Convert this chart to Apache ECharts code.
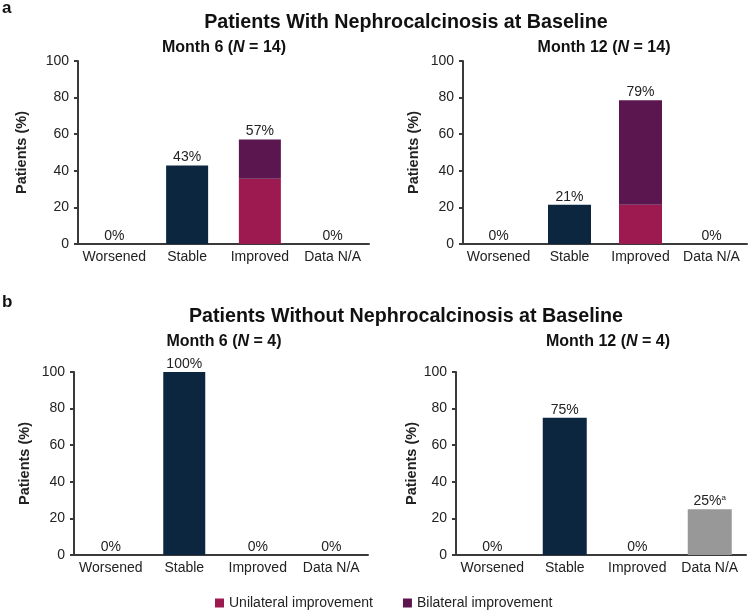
<!DOCTYPE html>
<html>
<head>
<meta charset="utf-8">
<script src="https://cdn.jsdelivr.net/npm/echarts@6/dist/echarts.min.js"></script>
<style>
html,body{margin:0;padding:0;background:#fff;}
#chart{width:749px;height:612px;}
</style>
</head>
<body>
<div id="chart"></div>
<script>
// ---- data ----
const categories = ['Worsened', 'Stable', 'Improved', 'Data N/A'];
const yTicks = [0, 20, 40, 60, 80, 100];
const titleWith = 'Patients With Nephrocalcinosis at Baseline';
const titleWithout = 'Patients Without Nephrocalcinosis at Baseline';
const panelMonths = ['Month 6', 'Month 12', 'Month 6', 'Month 12'];
const panelN = [14, 14, 4, 4];

// outcome bars (Worsened, Stable, -, Data N/A)
const outcomeWithM6 = [0, 42.9, '-', 0];
const outcomeWithM12 = [0, 21.4, '-', 0];
const outcomeWithoutM6 = [0, 100, '-', 0];
const outcomeWithoutM12 = [0, 75, '-', 25];
// improved split
const unilateralWithM6 = ['-', '-', 35.7, '-'];
const bilateralWithM6 = ['-', '-', 21.4, '-'];
const unilateralWithM12 = ['-', '-', 21.4, '-'];
const bilateralWithM12 = ['-', '-', 57.1, '-'];
const unilateralWithoutM6 = ['-', '-', 0, '-'];
const bilateralWithoutM6 = ['-', '-', 0, '-'];
const unilateralWithoutM12 = ['-', '-', 0, '-'];
const bilateralWithoutM12 = ['-', '-', 0, '-'];

// ---- styling ----
const FONT = '"Liberation Sans", Arial, sans-serif';
const TXT = '#222';
const NAVY = '#0c2640';
const GREY = '#989898';
const MAGENTA = '#9d1a50';
const PURPLE = '#5b1650';

const outcomes = [outcomeWithM6, outcomeWithM12, outcomeWithoutM6, outcomeWithoutM12];
const unis = [unilateralWithM6, unilateralWithM12, unilateralWithoutM6, unilateralWithoutM12];
const bis = [bilateralWithM6, bilateralWithM12, bilateralWithoutM6, bilateralWithoutM12];

const grids = [
  {left: 78, top: 61, width: 291, height: 183},
  {left: 463, top: 61, width: 284, height: 183},
  {left: 74, top: 372, width: 294, height: 183},
  {left: 456, top: 372, width: 290, height: 183}
];
const nameGaps = [49, 42, 42, 34];
const barWidths = [42, 43, 42, 44];

const xAxes = [], yAxes = [], series = [];
const lbl = {show: true, position: 'top', distance: 1, color: TXT, fontSize: 14, fontFamily: FONT};

grids.forEach((g, i) => {
  xAxes.push({
    type: 'category', gridIndex: i, data: categories,
    axisLine: {lineStyle: {color: '#3a3a3a', width: 2}},
    axisTick: {show: false},
    axisLabel: {color: TXT, fontSize: 14, fontFamily: FONT, margin: 6, interval: 0}
  });
  yAxes.push({
    type: 'value', gridIndex: i, min: yTicks[0], max: yTicks[yTicks.length - 1], interval: yTicks[1] - yTicks[0],
    name: 'Patients (%)', nameLocation: 'middle', nameGap: nameGaps[i], nameRotate: 90,
    nameTextStyle: {fontWeight: 'bold', fontSize: 14.5, color: TXT, fontFamily: FONT},
    axisLine: {show: true, lineStyle: {color: '#3a3a3a', width: 2}},
    axisTick: {show: true, length: 4, lineStyle: {color: '#3a3a3a', width: 2}},
    splitLine: {show: false},
    axisLabel: {color: TXT, fontSize: 14, fontFamily: FONT, margin: 9}
  });
  const outData = outcomes[i].map((v, k) => {
    if (v === '-') return '-';
    const item = {value: v, itemStyle: {color: categories[k] === 'Data N/A' ? GREY : NAVY}};
    if (i === 3 && categories[k] === 'Data N/A') {
      item.label = {formatter: '{v|' + Math.round(v) + '%}{s|a}'};
    }
    return item;
  });
  series.push({
    type: 'bar', name: 'Outcome', xAxisIndex: i, yAxisIndex: i, stack: 's' + i,
    barWidth: barWidths[i], data: outData,
    label: Object.assign({}, lbl, {
      formatter: p => Math.round(p.value) + '%',
      rich: {v: {fontSize: 14, color: TXT, fontFamily: FONT},
             s: {fontSize: 8, color: TXT, fontFamily: FONT, verticalAlign: 'top', padding: [0, 0, 6, 0]}}
    })
  });
  series.push({
    type: 'bar', name: 'Unilateral improvement', xAxisIndex: i, yAxisIndex: i, stack: 's' + i,
    barWidth: barWidths[i], data: unis[i], itemStyle: {color: MAGENTA}
  });
  series.push({
    type: 'bar', name: 'Bilateral improvement', xAxisIndex: i, yAxisIndex: i, stack: 's' + i,
    barWidth: barWidths[i], data: bis[i], itemStyle: {color: PURPLE},
    label: Object.assign({}, lbl, {
      formatter: p => Math.round(unis[i][p.dataIndex] + bis[i][p.dataIndex]) + '%'
    })
  });
});

const subCenters = [[224, 48], [604, 48], [224, 342], [608, 342]];
const titles = subCenters.map((c, i) => ({
  text: '{b|' + panelMonths[i] + ' (}{i|N}{b| = ' + panelN[i] + ')}',
  left: c[0], top: c[1] - 10, textAlign: 'center', padding: 0,
  textStyle: {
    rich: {
      b: {fontSize: 16, fontWeight: 'bold', fontFamily: FONT, color: '#111', lineHeight: 20},
      i: {fontSize: 16, fontWeight: 'bold', fontStyle: 'italic', fontFamily: FONT, color: '#111', lineHeight: 20}
    }
  }
}));

const graphics = [
  {type: 'text', x: 2, y: 8, style: {text: 'a', fontSize: 17, fontWeight: 'bold', fontFamily: FONT, fill: '#111', verticalAlign: 'middle'}},
  {type: 'text', x: 2, y: 302, style: {text: 'b', fontSize: 17, fontWeight: 'bold', fontFamily: FONT, fill: '#111', verticalAlign: 'middle'}},
  {type: 'text', x: 406, y: 23, style: {text: titleWith, fontSize: 19.7, fontWeight: 'bold', fontFamily: FONT, fill: '#111', align: 'center', verticalAlign: 'middle'}},
  {type: 'text', x: 406, y: 317, style: {text: titleWithout, fontSize: 19.7, fontWeight: 'bold', fontFamily: FONT, fill: '#111', align: 'center', verticalAlign: 'middle'}}
];

const chart = echarts.init(document.getElementById('chart'), null, {renderer: 'canvas'});
chart.setOption({
  animation: false,
  backgroundColor: '#fff',
  title: titles,
  grid: grids,
  xAxis: xAxes,
  yAxis: yAxes,
  series: series,
  graphic: graphics,
  legend: {
    data: ['Unilateral improvement', 'Bilateral improvement'],
    left: 210, top: 591, itemWidth: 9, itemHeight: 9, itemGap: 30, icon: 'rect',
    textStyle: {color: TXT, fontSize: 14, fontFamily: FONT}
  }
});
</script>
</body>
</html>
